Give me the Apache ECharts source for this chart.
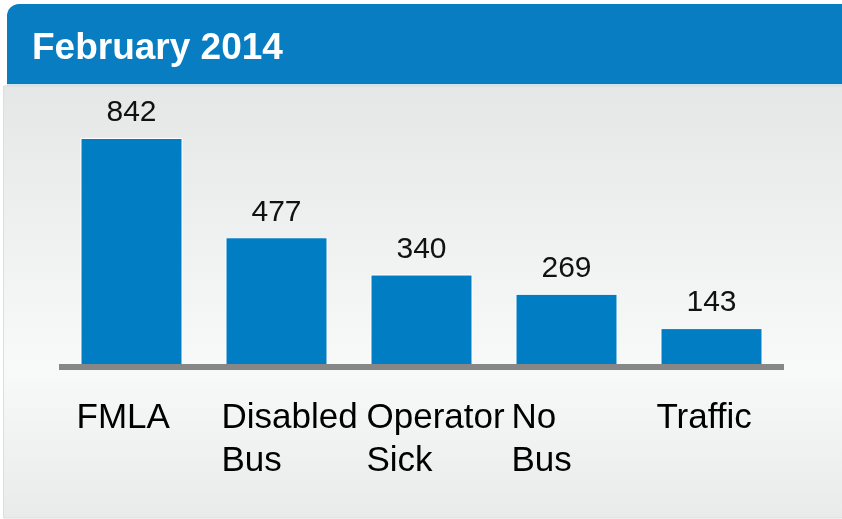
<!DOCTYPE html>
<html>
<head>
<meta charset="utf-8">
<script src="https://cdn.jsdelivr.net/npm/echarts@6/dist/echarts.min.js"></script>
<style>
  html, body { margin: 0; padding: 0; background: #fff; }
  #chart { width: 842px; height: 519px; }
</style>
</head>
<body>
<div id="chart"></div>
<script>
// data
var titleText = "February 2014";
var categories = ["FMLA", "Disabled\nBus", "Operator\nSick", "No\nBus", "Traffic"];
var counts = [842, 477, 340, 269, 143];

var FONT = "'Liberation Sans', Arial, sans-serif";
var blue = "#007dc3";

var chart = echarts.init(document.getElementById("chart"));

var option = {
  animation: false,
  title: {
    text: titleText,
    left: 27,
    top: 25,
    textStyle: {
      color: "#fff",
      fontSize: 37,
      fontWeight: "bold",
      fontFamily: FONT
    }
  },
  graphic: [
    // grey panel with soft vertical gradient
    {
      type: "rect",
      z: -10,
      shape: { x: 3.5, y: 86, width: 845, height: 432 },
      style: {
        fill: new echarts.graphic.LinearGradient(0, 0, 0, 1, [
          { offset: 0, color: "#e5e6e6" },
          { offset: 0.65, color: "#f8f9f9" },
          { offset: 1, color: "#e9eaea" }
        ]),
        stroke: "#dcdddd",
        lineWidth: 1
      }
    },
    // header bar
    {
      type: "rect",
      z: -5,
      shape: { x: 7, y: 4, width: 845, height: 80, r: [12, 0, 0, 0] },
      style: { fill: "#087dc2" }
    },
    {
      type: "rect",
      z: -5,
      shape: { x: 7, y: 84, width: 845, height: 2 },
      style: { fill: "#cfe3f1" }
    }
  ],
  grid: {
    left: 59,
    right: 58,
    top: 138,
    bottom: 152
  },
  xAxis: {
    type: "category",
    data: categories,
    z: 10,
    axisTick: { show: false },
    axisLine: {
      show: true,
      lineStyle: { color: "#878787", width: 6, cap: "butt" }
    },
    axisLabel: {
      interval: 0,
      margin: 30,
      formatter: function (v) {
        return v.split("\n").map(function (s) { return "{a|" + s + "}"; }).join("\n");
      },
      rich: {
        a: {
          width: 110,
          align: "left",
          fontSize: 35,
          lineHeight: 43,
          color: "#000",
          fontFamily: FONT
        }
      }
    }
  },
  yAxis: {
    type: "value",
    min: 0,
    max: 842,
    show: false,
    splitLine: { show: false }
  },
  series: [
    {
      type: "bar",
      data: counts,
      barWidth: 102,
      itemStyle: {
        color: blue,
        borderColor: "#ffffff",
        borderWidth: 1
      },
      label: {
        show: true,
        position: "top",
        distance: 10,
        fontSize: 30,
        color: "#111",
        fontFamily: FONT
      }
    }
  ]
};

chart.setOption(option);
</script>
</body>
</html>
